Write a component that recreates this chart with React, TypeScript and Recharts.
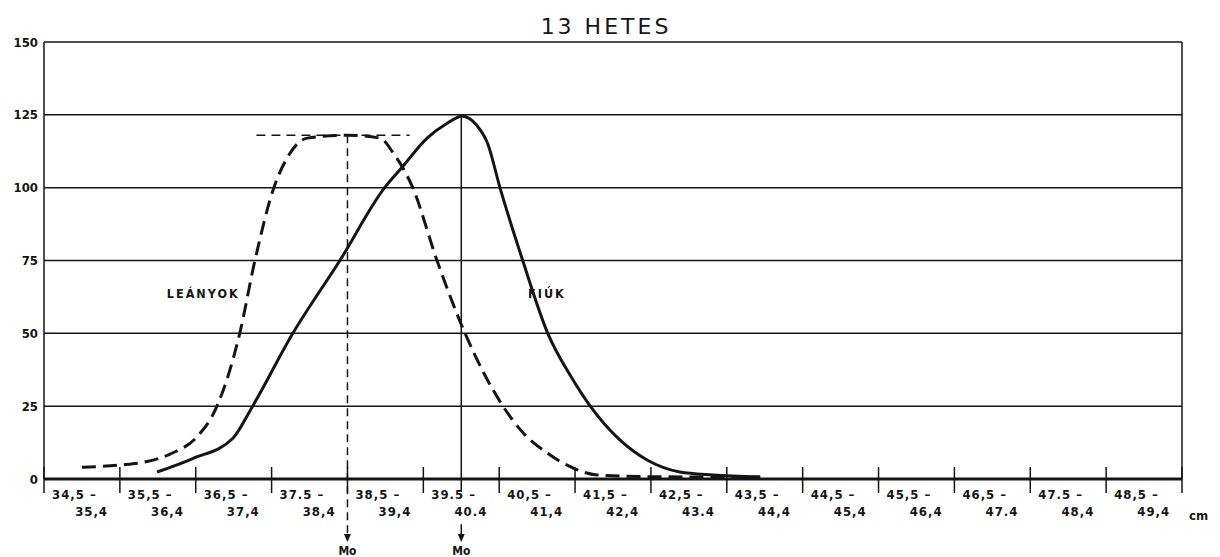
import React from 'react';
import {
  LineChart,
  Line,
  XAxis,
  YAxis,
  CartesianGrid,
  ReferenceLine,
  ReferenceDot,
} from 'recharts';

// interval labels (upper and lower line under each class)
const classStarts = ['34,5 –', '35,5 –', '36,5 –', '37.5 –', '38,5 –', '39.5 –', '40,5 –', '41,5 –', '42,5 –', '43,5 –', '44,5 –', '45,5 –', '46,5 –', '47.5 –', '48,5 –'];
const classEnds = ['35,4', '36,4', '37,4', '38,4', '39,4', '40.4', '41,4', '42,4', '43.4', '44,4', '45,4', '46,4', '47.4', '48,4', '49,4'];
const classBounds = [34.5, 35.5, 36.5, 37.5, 38.5, 39.5, 40.5, 41.5, 42.5, 43.5, 44.5, 45.5, 46.5, 47.5, 48.5, 49.5];
const yTicks = [0, 25, 50, 75, 100, 125, 150];

// LEÁNYOK (dashed)
const girlsCm = [35.0, 35.5, 35.86, 36.2, 36.5, 36.78, 37.08, 37.28, 37.53, 37.7, 37.97, 38.5, 38.93, 39.1, 39.36, 39.68, 40.05, 40.55, 40.81, 41.13, 41.47, 41.79, 42.5, 43.2, 43.94];
const girlsCount = [4, 4.8, 6, 9, 14, 25, 50, 75, 100, 110, 117, 118, 117, 112, 100, 75, 50, 25, 16, 9, 3.8, 1.4, 0.8, 0.7, 0.7];

// FIÚK (solid)
const boysCm = [35.99, 36.46, 36.99, 37.25, 37.78, 38.4, 38.99, 39.22, 39.55, 39.81, 40.01, 40.2, 40.35, 40.51, 40.81, 41.14, 41.45, 41.7, 42.09, 42.45, 42.88, 43.32, 43.94];
const boysCount = [2.4, 7, 14, 25, 50, 75, 100, 107, 117, 122, 124.5, 121.5, 115, 100, 75, 50, 35, 25, 13.4, 6.5, 2.4, 1.4, 0.7];

// modes (Mo)
const girlsMode = { cm: 38.5, count: 118 };
const boysMode = { cm: 40.0, count: 124.5 };

const girlsData = girlsCm.map((x, i) => ({ x, v: girlsCount[i] }));
const boysData = boysCm.map((x, i) => ({ x, v: boysCount[i] }));

const INK = '#151515';
const FONT = '"DejaVu Sans Condensed", "DejaVu Sans", sans-serif';

const XTick = (props: any) => {
  const { x, y, index } = props;
  return (
    <g>
      <line x1={x} x2={x} y1={y - 12} y2={y + 14} stroke={INK} strokeWidth={1.5} />
      {index < classStarts.length && (
        <>
          <text x={x + 8} y={y + 20} textAnchor="start" fontSize={13} fontWeight="bold" letterSpacing={1} fill={INK} fontFamily={FONT}>
            {classStarts[index]}
          </text>
          <text x={x + 64} y={y + 37} textAnchor="end" fontSize={13} fontWeight="bold" letterSpacing={1} fill={INK} fontFamily={FONT}>
            {classEnds[index]}
          </text>
        </>
      )}
      {index === classBounds.length - 1 && (
        <text x={x + 7} y={y + 41} fontSize={13} fontWeight="bold" fill={INK} fontFamily={FONT}>
          cm
        </text>
      )}
    </g>
  );
};

const MoArrow = (props: any) => {
  const { cx, cy } = props;
  return (
    <g>
      <path d={`M${cx - 3.5},${cy - 8} L${cx + 3.5},${cy - 8} L${cx},${cy} Z`} fill={INK} />
      <text x={cx} y={cy + 13} textAnchor="middle" fontSize={12} fontWeight="bold" fill={INK} fontFamily={FONT}>
        Mo
      </text>
    </g>
  );
};

const seriesLabel = (text: string, anchor: 'start' | 'end') => (props: any) => (
  <text x={props.cx} y={props.cy} textAnchor={anchor} dominantBaseline="middle" fontSize={12.5} fontWeight="bold" letterSpacing={2} fill={INK} fontFamily={FONT}>
    {text}
  </text>
);

export default function App() {
  return (
    <div style={{ position: 'relative', width: 1204, height: 549, background: '#fff' }}>
      {/* no scrollbars on the page */}
      <style>{'html { overflow: hidden; }'}</style>
      <div
        style={{
          position: 'absolute',
          top: 6,
          left: 0,
          width: 1196,
          textAlign: 'center',
          fontFamily: '"DejaVu Sans", sans-serif',
          fontSize: 22,
          letterSpacing: 3,
          color: INK,
        }}
      >
        13 HETES
      </div>
      <LineChart width={1204} height={549} margin={{ top: 34, right: 30, bottom: 18, left: 0 }}>
        <CartesianGrid vertical={false} stroke={INK} strokeWidth={1.5} strokeOpacity={1} />
        <XAxis
          dataKey="x"
          type="number"
          domain={[34.5, 49.5]}
          ticks={classBounds}
          interval={0}
          height={60}
          tickSize={0}
          tickMargin={0}
          tickLine={false}
          axisLine={{ stroke: INK, strokeWidth: 3 }}
          tick={<XTick />}
          allowDataOverflow
        />
        <YAxis
          type="number"
          domain={[0, 150]}
          ticks={yTicks}
          width={36}
          tickSize={0}
          tickMargin={6}
          tickLine={false}
          axisLine={{ stroke: INK, strokeWidth: 1.5 }}
          tick={{ fill: INK, fontSize: 13, fontWeight: 'bold', fontFamily: FONT }}
        />
        <ReferenceLine x={49.5} stroke={INK} strokeWidth={1.5} />
        <ReferenceLine
          segment={[{ x: 37.3, y: girlsMode.count }, { x: 39.32, y: girlsMode.count }]}
          stroke={INK}
          strokeWidth={1.5}
          strokeDasharray="9 6"
        />
        <ReferenceLine
          segment={[{ x: girlsMode.cm, y: girlsMode.count }, { x: girlsMode.cm, y: -20 }]}
          stroke={INK}
          strokeWidth={1.5}
          strokeDasharray="8 5"
          ifOverflow="visible"
        />
        <ReferenceLine
          segment={[{ x: boysMode.cm, y: boysMode.count }, { x: boysMode.cm, y: -4.5 }]}
          stroke={INK}
          strokeWidth={1.5}
          ifOverflow="visible"
        />
        <ReferenceLine
          segment={[{ x: boysMode.cm, y: -15.5 }, { x: boysMode.cm, y: -20 }]}
          stroke={INK}
          strokeWidth={1.5}
          ifOverflow="visible"
        />
        <ReferenceDot x={girlsMode.cm} y={-21.6} ifOverflow="visible" shape={MoArrow} />
        <ReferenceDot x={boysMode.cm} y={-21.6} ifOverflow="visible" shape={MoArrow} />
        <ReferenceDot x={37.08} y={63.4} ifOverflow="visible" shape={seriesLabel('LEÁNYOK', 'end')} />
        <ReferenceDot x={40.88} y={63.4} ifOverflow="visible" shape={seriesLabel('FIÚK', 'start')} />
        <Line
          data={girlsData}
          dataKey="v"
          type="monotone"
          stroke={INK}
          strokeWidth={3}
          strokeDasharray="14 7"
          dot={false}
          activeDot={false}
          isAnimationActive={false}
        />
        <Line
          data={boysData}
          dataKey="v"
          type="monotone"
          stroke={INK}
          strokeWidth={3}
          dot={false}
          activeDot={false}
          isAnimationActive={false}
        />
      </LineChart>
    </div>
  );
}
